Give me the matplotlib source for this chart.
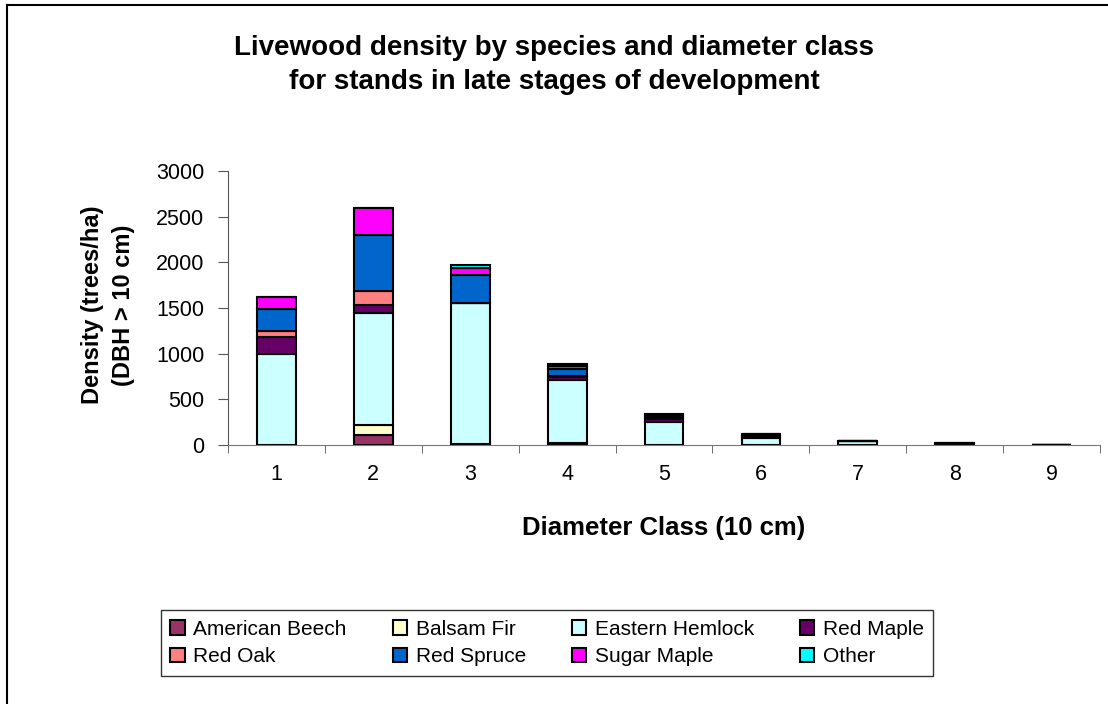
import matplotlib.pyplot as plt
import numpy as np
from matplotlib.lines import Line2D

plt.rcParams['font.family'] = ['Liberation Sans', 'DejaVu Sans']

classes = [1, 2, 3, 4, 5, 6, 7, 8, 9]
species = ['American Beech', 'Balsam Fir', 'Eastern Hemlock', 'Red Maple',
           'Red Oak', 'Red Spruce', 'Sugar Maple', 'Other']
colors = ['#993366', '#FFFFCC', '#CCFFFF', '#660066',
          '#FF8080', '#0066CC', '#FF00FF', '#00FFFF']

american_beech = [0, 105, 15, 20, 0, 0, 0, 0, 0]
balsam_fir = [0, 110, 0, 0, 0, 0, 0, 0, 0]
eastern_hemlock = [1000, 1230, 1535, 690, 250, 75, 45, 5, 0]
red_maple = [180, 85, 0, 30, 30, 20, 0, 10, 0]
red_oak = [65, 160, 0, 10, 0, 0, 0, 0, 0]
red_spruce = [240, 610, 310, 80, 30, 20, 0, 10, 0]
sugar_maple = [140, 290, 75, 35, 20, 0, 0, 0, 0]
other = [0, 0, 35, 20, 5, 0, 0, 0, 0]

series = [american_beech, balsam_fir, eastern_hemlock, red_maple,
          red_oak, red_spruce, sugar_maple, other]

fig = plt.figure(figsize=(11.08, 7.04), dpi=100)
ax = fig.add_axes([0.2058, 0.368, 0.787, 0.389])

x = np.array(classes)
bottom = np.zeros(len(classes))
handles = []
for name, vals, c in zip(species, series, colors):
    vals = np.array(vals, dtype=float)
    h = ax.bar(x, vals, width=0.4, bottom=bottom, color=c, edgecolor='black',
               linewidth=1.5, label=name)
    handles.append(h)
    bottom += vals

ax.set_xlim(0.5, 9.5)
ax.set_ylim(0, 3000)
ax.set_yticks(range(0, 3001, 500))
ax.set_xticks(classes)
ax.set_xticks(np.arange(0.5, 9.6, 1), minor=True)
ax.tick_params(axis='x', which='major', length=0, pad=14, labelsize=15.5)
ax.tick_params(axis='x', which='minor', length=6, direction='out', color='#555555')
ax.tick_params(axis='y', length=7, direction='out', labelsize=15.5, pad=10, color='#555555')

for s in ['top', 'right']:
    ax.spines[s].set_visible(False)
ax.spines['left'].set_color('#555555')
ax.spines['bottom'].set_color('#777777')

fig.text(664 / 1108, 1 - 528 / 704, 'Diameter Class (10 cm)', fontsize=18.5,
         fontweight='bold', ha='center', va='center')
fig.text(108 / 1108, 1 - 305 / 704, 'Density (trees/ha)\n(DBH > 10 cm)', fontsize=17,
         fontweight='bold', ha='center', va='center', rotation=90,
         multialignment='center', linespacing=1.4)

fig.text(0.5, 1 - 65 / 704,
         'Livewood density by species and diameter class\nfor stands in late stages of development',
         fontsize=20, fontweight='bold', ha='center', va='center', linespacing=1.36)

# row-major order like the original legend (matplotlib fills columns first)
order = [0, 4, 1, 5, 2, 6, 3, 7]
leg = fig.legend([handles[i] for i in order], [species[i] for i in order],
                 loc='center', bbox_to_anchor=(547 / 1108, 1 - 643 / 704), ncol=4,
                 fontsize=15, frameon=True, fancybox=False, edgecolor='black',
                 handlelength=0.7, handleheight=0.7, handletextpad=0.4,
                 columnspacing=2.2, borderpad=0.45, labelspacing=0.4)
leg.get_frame().set_linewidth(1.0)

fig.add_artist(Line2D([7 / 1108, 1], [1 - 5 / 704, 1 - 5 / 704], transform=fig.transFigure,
                      color='black', linewidth=1.5))
fig.add_artist(Line2D([7 / 1108, 7 / 1108], [0, 1 - 5 / 704], transform=fig.transFigure,
                      color='black', linewidth=1.5))

fig.savefig('out.png', dpi=100)
